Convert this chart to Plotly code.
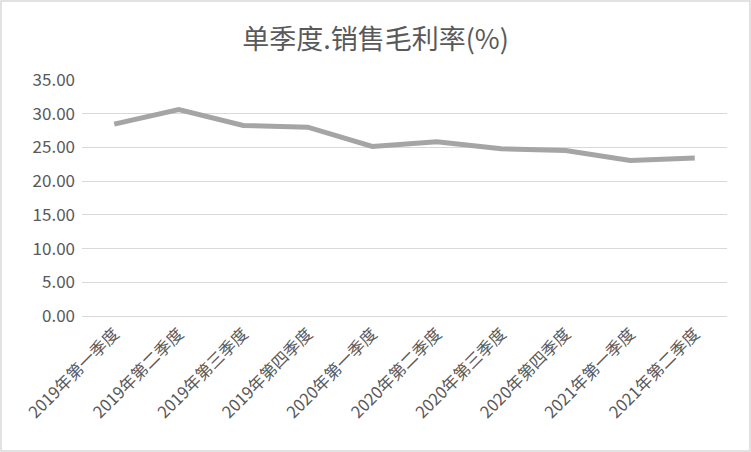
import plotly.graph_objects as go

# quarters and single-quarter gross margin (%)
quarters = ['2019年第一季度', '2019年第二季度', '2019年第三季度', '2019年第四季度',
            '2020年第一季度', '2020年第二季度', '2020年第三季度', '2020年第四季度',
            '2021年第一季度', '2021年第二季度']
gross_margin = [28.45, 30.6, 28.25, 28.0, 25.15, 25.85, 24.8, 24.55, 23.05, 23.45]
y_ticks = [0, 5, 10, 15, 20, 25, 30, 35]

font_family = "Noto Sans CJK SC, Noto Sans, sans-serif"
text_color = '#595959'

fig = go.Figure()
fig.add_trace(go.Scatter(
    x=quarters,
    y=gross_margin,
    mode='lines',
    line=dict(color='#A5A5A5', width=5),
    hoverinfo='x+y',
))

# plot area in pixels: left 82, right 727, top 80, bottom 316
pw, ph = 645, 236
fig.add_shape(type='rect', xref='paper', yref='paper',
              x0=(1 - 82) / pw, x1=(750 - 82) / pw,
              y0=(316 - 451) / ph, y1=(316 - 1) / ph,
              line=dict(color='#D9D9D9', width=1.5), fillcolor='rgba(0,0,0,0)')

fig.update_layout(
    width=751, height=452,
    margin=dict(l=82, r=24, t=80, b=136),
    paper_bgcolor='white',
    plot_bgcolor='white',
    showlegend=False,
    font=dict(family=font_family, color=text_color, size=16),
    title=dict(text='单季度.销售毛利率(%)', x=0.5, xanchor='center',
               y=1 - 40 / 452, yanchor='middle',
               font=dict(size=27, color=text_color, family=font_family)),
)
fig.update_xaxes(
    type='category',
    range=[-0.5, len(quarters) - 0.5],
    tickangle=-45,
    showgrid=False,
    showline=False,
    ticks='',
    ticklabelstandoff=4,
    tickfont=dict(size=16.5, color=text_color),
)
fig.update_yaxes(
    range=[0, 35],
    tickvals=y_ticks,
    tickformat='.2f',
    showgrid=True,
    gridcolor='#D9D9D9',
    gridwidth=1.2,
    zeroline=True,
    zerolinecolor='#D9D9D9',
    zerolinewidth=1.2,
    showline=False,
    ticks='',
    ticklabelstandoff=6,
    tickfont=dict(size=17, color=text_color),
)

# drop the browser's default body margin so the chart sits at the page corner
fig.write_html("out.html", config={'displayModeBar': False},
               post_script="document.body.style.margin='0';")
